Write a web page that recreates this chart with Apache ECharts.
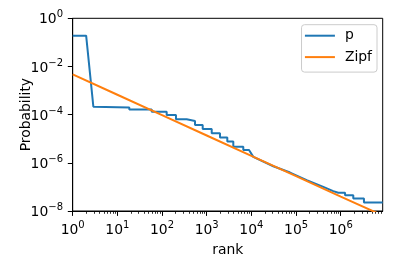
<!DOCTYPE html>
<html>
<head>
<meta charset="utf-8">
<script src="https://cdn.jsdelivr.net/npm/echarts@6/dist/echarts.min.js"></script>
<style>
html,body{margin:0;padding:0;background:#fff;}
#c{width:396px;height:268px;}
</style>
</head>
<body>
<div id="c"></div>
<script>
// ---- data ----
const pRank = [1, 2, 2.9, 18.5, 18.5, 58.7, 58.7, 127, 127, 205, 205, 356, 356, 547, 547, 813, 813, 1294, 1294, 1983, 1983, 2890, 2890, 3937, 3937, 6590, 6590, 8850, 11040, 31000, 73300, 173000, 407000, 680000, 880000, 1250000, 1250000, 1910000, 1910000, 3310000, 3310000, 8700000];
const pProb = [0.19, 0.19, 2.14e-4, 2.0e-4, 1.65e-4, 1.65e-4, 1.31e-4, 1.31e-4, 9.7e-5, 9.7e-5, 6.5e-5, 6.5e-5, 5.5e-5, 5.5e-5, 3.7e-5, 3.7e-5, 2.55e-5, 2.55e-5, 1.7e-5, 1.7e-5, 1.12e-5, 1.12e-5, 7.6e-6, 7.6e-6, 4.7e-6, 4.7e-6, 3.4e-6, 3.4e-6, 1.77e-6, 7.2e-7, 3.95e-7, 1.9e-7, 1.0e-7, 6.7e-8, 5.7e-8, 5.7e-8, 4.55e-8, 4.55e-8, 3.3e-8, 3.3e-8, 2.24e-8, 2.24e-8];
const zipfRank = [1, 10, 100, 1000, 10000, 100000, 1000000, 8700000];
const zipfProb = [4.7e-3, 6.68e-4, 9.55e-5, 1.36e-5, 1.95e-6, 2.79e-7, 3.98e-8, 6.5e-9];
const xTicks = [1, 10, 100, 1000, 10000, 100000, 1000000];
const yTicks = [1e-8, 1e-6, 1e-4, 1e-2, 1];
const xMin = 1, xMax = 8700000, yMin = 1e-8, yMax = 1;
const seriesNames = ['p', 'Zipf'];
const xName = 'rank', yName = 'Probability';

// ---- helpers ----
const minorX = [];
for (let d = 1; d <= 1e6; d *= 10) {
  for (let k = 2; k <= 9; k++) { const v = k * d; if (v <= xMax) minorX.push(v); }
}
function supLabel(v) {
  const e = Math.round(Math.log10(v));
  const s = (e < 0 ? '\u2212' + (-e) : '' + e);
  return '{b|10}{s|' + s + '}';
}
const FONT = 'DejaVu Sans';
const rich = {
  b: { fontFamily: FONT, fontSize: 13.9, lineHeight: 17, verticalAlign: 'bottom', color: '#000' },
  s: { fontFamily: FONT, fontSize: 10, lineHeight: 9, verticalAlign: 'top', color: '#000' }
};

const chart = echarts.init(document.getElementById('c'), null, { renderer: 'canvas' });
chart.setOption({
  animation: false,
  backgroundColor: '#fff',
  textStyle: { fontFamily: FONT },
  grid: { left: 72.7, right: 13.3, top: 18.3, bottom: 57, show: true, borderColor: '#000', borderWidth: 1, containLabel: false },
  legend: {
    data: seriesNames,
    orient: 'vertical',
    right: 19, top: 24.7,
    align: 'left',
    icon: 'rect', itemWidth: 30, itemHeight: 2, itemGap: 5.4,
    padding: [3, 5, 7, 3.4],
    backgroundColor: 'rgba(255,255,255,0.8)',
    borderColor: '#cccccc', borderWidth: 1, borderRadius: 3,
    textStyle: { fontFamily: FONT, fontSize: 13.9, lineHeight: 16, color: '#000', padding: [0, 0, 0, 5] }
  },
  xAxis: [{
    type: 'log', logBase: 10, min: xMin, max: xMax, position: 'bottom',
    name: xName, nameLocation: 'middle', nameGap: 32, nameMoveOverlap: false,
    nameTextStyle: { fontFamily: FONT, fontSize: 13.9, color: '#000' },
    axisLine: { show: true, lineStyle: { color: '#000', width: 1 } },
    axisTick: { show: true, length: 4.9, lineStyle: { color: '#000', width: 1 }, customValues: xTicks },
    axisLabel: { margin: 9.5, customValues: xTicks, formatter: supLabel, rich: rich, color: '#000' },
    splitLine: { show: false }, minorTick: { show: false }
  }, {
    type: 'log', logBase: 10, min: xMin, max: xMax, position: 'bottom',
    axisLine: { show: false },
    axisTick: { show: true, length: 2.8, lineStyle: { color: '#000', width: 0.8 }, customValues: minorX },
    axisLabel: { show: false },
    splitLine: { show: false }
  }],
  yAxis: {
    type: 'log', logBase: 10, min: yMin, max: yMax,
    name: yName, nameLocation: 'middle', nameGap: 39, nameRotate: 90, nameMoveOverlap: false,
    nameTextStyle: { fontFamily: FONT, fontSize: 13.9, color: '#000' },
    axisLine: { show: true, lineStyle: { color: '#000', width: 1 } },
    axisTick: { show: true, length: 4.9, lineStyle: { color: '#000', width: 1 }, customValues: yTicks },
    axisLabel: { margin: 9.7, customValues: yTicks, formatter: supLabel, rich: rich, color: '#000' },
    splitLine: { show: false }, minorTick: { show: false }
  },
  series: [{
    name: seriesNames[0], type: 'line', xAxisIndex: 0,
    data: pRank.map((r, i) => [r, pProb[i]]),
    showSymbol: false, symbol: 'none',
    lineStyle: { color: '#1f77b4', width: 2 }, itemStyle: { color: '#1f77b4' }, clip: true
  }, {
    name: seriesNames[1], type: 'line', xAxisIndex: 0,
    data: zipfRank.map((r, i) => [r, zipfProb[i]]),
    showSymbol: false, symbol: 'none',
    lineStyle: { color: '#ff7f0e', width: 2 }, itemStyle: { color: '#ff7f0e' }, clip: true
  }]
});
</script>
</body>
</html>
